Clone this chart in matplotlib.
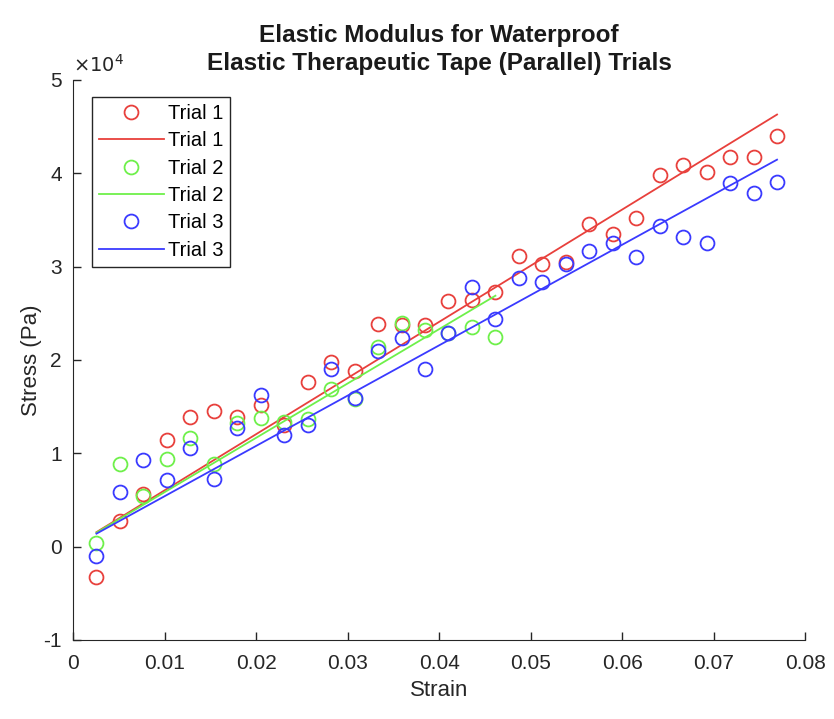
import numpy as np
import matplotlib
matplotlib.use('Agg')
import matplotlib.pyplot as plt

plt.rcParams['font.family'] = ['Liberation Sans', 'DejaVu Sans']

step = 0.002564  # strain increment between readings
strain1 = step*np.arange(1, 31)
strain2 = step*np.arange(1, 19)
strain3 = step*np.arange(1, 31)

stress1 = [-3280, 2740, 5670, 11440, 13830, 14480, 13830, 15180, 13050, 17590,
           19820, 18780, 23790, 23700, 23720, 26340, 26370, 27260, 31100, 30310,
           30480, 34530, 33460, 35150, 39830, 40870, 40150, 41730, 41760, 44020]
stress2 = [410, 8890, 5420, 9430, 11620, 8830, 13230, 13770, 13300, 13660,
           16880, 15800, 21350, 23930, 23150, 22900, 23500, 22500]
stress3 = [-1020, 5850, 9320, 7170, 10610, 7220, 12700, 16270, 11980, 13050,
           19030, 15920, 20920, 22290, 19010, 22900, 27770, 24360, 28760, 28340,
           30310, 31630, 32550, 30990, 34290, 33170, 32570, 38940, 37830, 39010]

labels = ['Trial 1', 'Trial 2', 'Trial 3']
colors = ['#e8403c', '#6ef04a', '#3a3aff']
ytick_vals = [-1, 0, 1, 2, 3, 4, 5]
xtick_vals = [0, 0.01, 0.02, 0.03, 0.04, 0.05, 0.06, 0.07, 0.08]

fig = plt.figure(figsize=(8.34, 7.19), dpi=100)
ax = fig.add_axes([0.0875, 0.110, 0.878, 0.779])

for x, y, lab, c in zip([strain1, strain2, strain3], [stress1, stress2, stress3], labels, colors):
    y = np.array(y, dtype=float)
    E = np.sum(x*y)/np.sum(x*x)  # fit through origin -> modulus
    ax.plot(x, y, 'o', mfc='none', mec=c, ms=10, mew=1.3, label=lab)
    ax.plot(x, E*x, '-', color=c, lw=1.3, label=lab)

ax.set_xlim(0, 0.08)
ax.set_ylim(-1e4, 5e4)
ax.set_xticks(xtick_vals)
ax.set_xticklabels([('%g' % v) for v in xtick_vals])
ax.set_yticks([v*1e4 for v in ytick_vals])
ax.set_yticklabels([str(v) for v in ytick_vals])
ax.tick_params(direction='in', length=6, width=1, labelsize=15, colors='#262626')
ax.tick_params(axis='x', pad=10)
ax.tick_params(axis='y', pad=8)
ax.spines['top'].set_visible(False)
ax.spines['right'].set_visible(False)
for s in ['left', 'bottom']:
    ax.spines[s].set_color('#262626')
ax.text(0.0, 1.008, r'$\times 10^{4}$', transform=ax.transAxes, fontsize=14,
        color='#262626', va='bottom', ha='left')

ax.set_xlabel('Strain', fontsize=16, color='#262626', labelpad=5)
ax.set_ylabel('Stress (Pa)', fontsize=16, color='#262626', labelpad=1)
ax.set_title('Elastic Modulus for Waterproof\nElastic Therapeutic Tape (Parallel) Trials',
             fontsize=17.5, fontweight='bold', color='#1a1a1a', pad=7, linespacing=1.3)

leg = ax.legend(loc='upper left', bbox_to_anchor=(0.026, 0.97), fontsize=14.5,
                fancybox=False, framealpha=1, edgecolor='#262626', borderaxespad=0,
                handlelength=3.2, handletextpad=0.2, borderpad=0.35, labelspacing=0.42)
leg.get_frame().set_linewidth(1.0)

plt.savefig('out.png', dpi=100)
